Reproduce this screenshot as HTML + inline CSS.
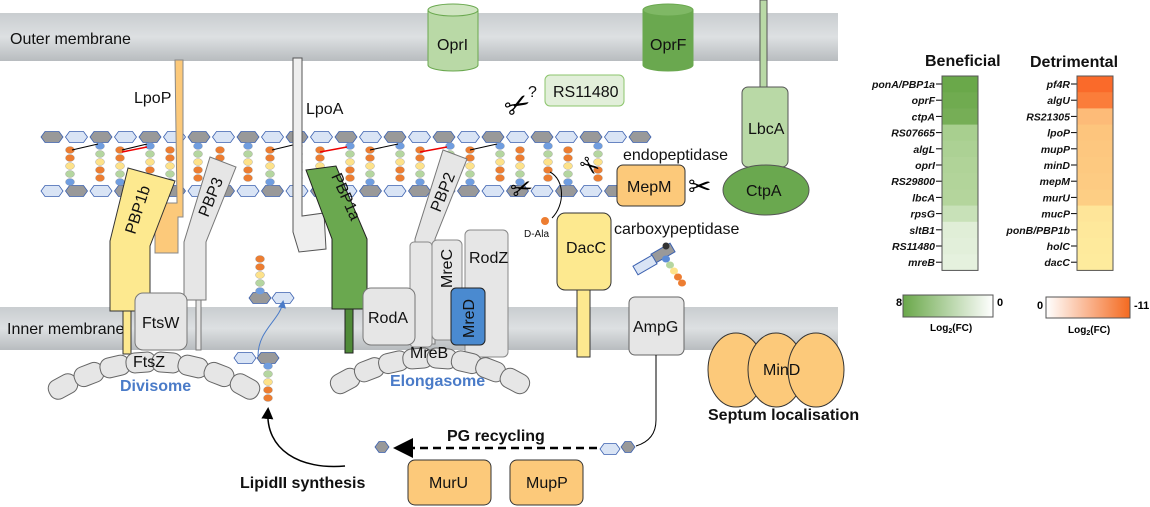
<!DOCTYPE html>
<html><head><meta charset="utf-8"><style>
body{margin:0;background:#fff}
svg{display:block;font-family:"Liberation Sans",sans-serif}
.t{font-size:16px;fill:#111}
.b{font-weight:bold}
.hl{font-size:10.5px;font-weight:bold;font-style:italic;text-anchor:end;fill:#111}
</style></head><body>
<svg id="s" width="1150" height="507" viewBox="0 0 1150 507" xmlns="http://www.w3.org/2000/svg">
<defs>
<linearGradient id="mem" x1="0" y1="0" x2="0" y2="1"><stop offset="0" stop-color="#c9cdd0"/><stop offset="0.5" stop-color="#dde0e2"/><stop offset="1" stop-color="#b8bcbf"/></linearGradient>
<linearGradient id="gb" x1="0" x2="1"><stop offset="0" stop-color="#6aa84a"/><stop offset="1" stop-color="#fff"/></linearGradient>
<linearGradient id="ob" x1="0" x2="1"><stop offset="0" stop-color="#fff"/><stop offset="1" stop-color="#f46a20"/></linearGradient>
<marker id="ah" markerWidth="8" markerHeight="8" refX="6" refY="4" orient="auto"><path d="M0,0 L8,4 L0,8z" fill="#000"/></marker>
<marker id="ab" markerWidth="8" markerHeight="8" refX="6" refY="4" orient="auto"><path d="M0,0 L8,4 L0,8z" fill="#4a7bc8"/></marker>
</defs>
<rect x="0" y="13" width="838" height="48" fill="url(#mem)"/>
<rect x="0" y="307" width="838" height="43" fill="url(#mem)"/>
<text x="10" y="44" class="t" font-size="15" fill="#333">Outer membrane</text>
<text x="7" y="334" class="t" font-size="15" fill="#333">Inner membrane</text>
<g id="pg"></g>
<g stroke="#6aa84f" stroke-width="1">
<path d="M428,10 v55 a25,6 0 0 0 50,0 v-55z" fill="#b9d9a6"/><ellipse cx="453" cy="10" rx="25" ry="6" fill="#cfe5c0"/>
<path d="M643,10 v55 a25,6 0 0 0 50,0 v-55z" fill="#6aa84f"/><ellipse cx="668" cy="10" rx="25" ry="6" fill="#7fb865"/>
</g>
<text x="437" y="50" class="t">OprI</text><text x="650" y="50" class="t">OprF</text>
<rect x="760" y="0" width="7" height="92" fill="#b9d9a6" stroke="#555"/>
<rect x="742" y="87" width="46" height="80" rx="6" fill="#b9d9a6" stroke="#555"/>
<text x="748" y="134" class="t">LbcA</text>
<ellipse cx="766" cy="190" rx="43" ry="25" fill="#6aa84f" stroke="#555"/>
<text x="746" y="196" class="t">CtpA</text>
<rect x="545" y="75" width="79" height="31" rx="5" fill="#e2efda" stroke="#8cc56c"/>
<text x="553" y="97" class="t">RS11480</text>
<text x="528" y="97" class="t">?</text>
<text x="505" y="115" font-size="30" transform="rotate(-30 518 105)">✂</text>
<path d="M175,60 h8 v157 h-5 v36 h-23 v-50 l22,0z" fill="#fcc97a" stroke="#888"/>
<text x="134" y="103" class="t">LpoP</text>
<path d="M293,58 h9 v158 l22,-3 l2,36 l-27,3 l-6,-20z" fill="#eee" stroke="#555"/>
<text x="306" y="114" class="t">LpoA</text>
<path d="M128,168 l47,13 l-25,65 v65 h-2 v0 h-38 v-70z" fill="#fde98f" stroke="#333"/>
<rect x="123" y="311" width="8" height="43" fill="#fde98f" stroke="#333"/>
<text x="0" y="0" class="t" transform="translate(135,235) rotate(-72)">PBP1b</text>
<path d="M210,157 l26,10 l-30,75 v58 h-22 v-58z" fill="#e6e6e6" stroke="#777"/>
<rect x="196" y="300" width="5" height="50" fill="#e6e6e6" stroke="#777"/>
<text x="0" y="0" class="t" transform="translate(208,218) rotate(-68)">PBP3</text>
<path d="M306,170 l30,-4 l31,73 v70 h-35 v-70z" fill="#6aa84f" stroke="#222"/>
<rect x="345" y="309" width="8" height="44" fill="#4f8a38" stroke="#222"/>
<text x="0" y="0" class="t" transform="translate(331,176) rotate(66)">PBP1a</text>
<path d="M443,150 l24,9 l-32,80 v105 h-20 v-105z" fill="#e6e6e6" stroke="#777"/>
<text x="0" y="0" class="t" transform="translate(440,213) rotate(-68)">PBP2</text>
<rect x="410" y="242" width="22" height="105" rx="4" fill="#e6e6e6" stroke="#888"/>
<rect x="432" y="240" width="30" height="100" rx="5" fill="#e6e6e6" stroke="#888"/>
<text x="0" y="0" class="t" transform="translate(452,288) rotate(-90)">MreC</text>
<rect x="465" y="230" width="43" height="127" rx="5" fill="#e6e6e6" stroke="#888"/>
<text x="469" y="263" class="t">RodZ</text>
<rect x="451" y="288" width="34" height="57" rx="5" fill="#4a8ad0" stroke="#222"/>
<text x="0" y="0" class="t" transform="translate(474,338) rotate(-90)">MreD</text>
<rect x="363" y="288" width="52" height="57" rx="8" fill="#e6e6e6" stroke="#777"/>
<text x="368" y="323" class="t">RodA</text>
<rect x="135" y="293" width="52" height="57" rx="8" fill="#e6e6e6" stroke="#777"/>
<text x="142" y="328" class="t">FtsW</text>
<g id="fil" fill="#e6e6e6" stroke="#666"></g>
<text x="133" y="367" class="t" font-size="15">FtsZ</text>
<text x="410" y="358" class="t" font-size="15">MreB</text>
<text x="120" y="391" class="t b" font-size="15" style="fill:#4a7bc8">Divisome</text>
<text x="390" y="386" class="t b" font-size="15" style="fill:#4a7bc8">Elongasome</text>
<rect x="577" y="287" width="13" height="70" fill="#fde98f" stroke="#333"/>
<rect x="557" y="213" width="54" height="77" rx="8" fill="#fde98f" stroke="#333"/>
<text x="566" y="253" class="t">DacC</text>
<text x="614" y="234" class="t" font-size="13">carboxypeptidase</text>
<circle cx="545" cy="221" r="4" fill="#ed7d31"/>
<text x="524" y="237" font-size="10" fill="#111">D-Ala</text>
<path d="M550,172 C565,180 565,205 552,218" fill="none" stroke="#000"/>
<rect x="617" y="165" width="68" height="41" rx="6" fill="#fcc97a" stroke="#333"/>
<text x="627" y="192" class="t">MepM</text>
<text x="623" y="160" class="t" font-size="13">endopeptidase</text>
<text x="688" y="196" font-size="28">✂</text>
<text x="510" y="196" font-size="26" transform="rotate(-20 525 185)">✂</text>
<text x="575" y="180" font-size="24" transform="rotate(40 595 175)">✂</text>
<rect x="629" y="297" width="55" height="58" rx="6" fill="#e6e6e6" stroke="#666"/>
<text x="633" y="332" class="t">AmpG</text>
<path d="M656,355 V420 Q656,440 636,446" fill="none" stroke="#000"/>
<g fill="#fcc97a" stroke="#333"><ellipse cx="736" cy="370" rx="28" ry="37"/><ellipse cx="776" cy="370" rx="28" ry="37"/><ellipse cx="816" cy="370" rx="28" ry="37"/></g>
<text x="763" y="375" class="t">MinD</text>
<text x="708" y="420" class="t b" font-size="13">Septum localisation</text>
<line x1="597" y1="448" x2="398" y2="448" stroke="#000" stroke-width="2.5" stroke-dasharray="8,5" marker-end="url(#ah)"/>
<text x="447" y="441" class="t b" font-size="13">PG recycling</text>
<rect x="408" y="460" width="83" height="45" rx="7" fill="#fcc97a" stroke="#333"/>
<text x="429" y="488" class="t">MurU</text>
<rect x="510" y="460" width="73" height="45" rx="7" fill="#fcc97a" stroke="#333"/>
<text x="526" y="488" class="t">MupP</text>
<text x="240" y="488" class="t b" font-size="12">LipidII synthesis</text>
<path d="M345,466 C300,470 265,450 268,410" fill="none" stroke="#000" stroke-width="1.5" marker-end="url(#ah)"/>
<path d="M258,356 C258,330 280,320 283,302" fill="none" stroke="#4a7bc8" marker-end="url(#ab)"/>
<text x="925" y="66" class="t b" font-size="13">Beneficial</text>
<text x="1030" y="67" class="t b" font-size="13">Detrimental</text>
<g id="hm"></g>
<rect x="903" y="295" width="90" height="22" fill="url(#gb)" stroke="#555"/>
<text x="896" y="306" font-size="11" class="b">8</text><text x="997" y="306" font-size="11" class="b">0</text>
<text x="930" y="331" font-size="10" class="b">Log<tspan font-size="7" dy="2">2</tspan><tspan dy="-2">(FC)</tspan></text>
<rect x="1046" y="297" width="84" height="21" fill="url(#ob)" stroke="#555"/>
<text x="1037" y="309" font-size="11" class="b">0</text><text x="1134" y="309" font-size="11" class="b">-11</text>
<text x="1068" y="333" font-size="10" class="b">Log<tspan font-size="7" dy="2">2</tspan><tspan dy="-2">(FC)</tspan></text>
</svg>
<script>
const NS="http://www.w3.org/2000/svg";
function el(p,t,a){const e=document.createElementNS(NS,t);for(const k in a)e.setAttribute(k,a[k]);p.appendChild(e);return e;}
const pg=document.getElementById('pg');
function hex(cx,cy,g,w,rot){w=w||22;const h=11;const p=`${cx-w/2},${cy} ${cx-w/2+4},${cy-h/2} ${cx+w/2-4},${cy-h/2} ${cx+w/2},${cy} ${cx+w/2-4},${cy+h/2} ${cx-w/2+4},${cy+h/2}`;
 const e=el(pg,'polygon',{points:p,fill:g?'#999':'#d9e4f5',stroke:'#3d62b0','stroke-width':0.8});if(rot)e.setAttribute('transform',rot);}
for(let i=0;i<25;i++){hex(52+i*24.5,137,i%2==0);}
for(let i=0;i<24;i++){hex(52+i*24.5,191,i%2==1);}
const cols=['#5b8bd6','#b5d6a0','#fde28a','#ed7d31','#ed7d31'];
function stem(x,y0,dir,n){for(let k=0;k<n;k++)el(pg,'ellipse',{cx:x,cy:y0+dir*k*8,rx:4.5,ry:3.5,fill:['#6f9de0','#b5d6a0','#fde28a','#ed7d31','#ed7d31'][k],stroke:'#999','stroke-width':0.4});}
[100,150,198,248,298,350,400,450,500,548,598].forEach(x=>stem(x,146,1,5));
[70,120,170,220,270,320,370,420,470,520,568].forEach(x=>stem(x,182,-1,5));
[[72,150,98],[122,150,147],[272,150,297],[370,150,398],[470,150,497]].forEach(a=>el(pg,'line',{x1:a[0],y1:a[1],x2:a[2],y2:a[1]-6,stroke:'#000'}));
[[122,150,147],[320,150,347],[420,150,447]].forEach(a=>el(pg,'line',{x1:a[0],y1:a[1]+2,x2:a[2],y2:a[1]-3,stroke:'#e00','stroke-width':1.5}));
hex(260,298,true,22);hex(283,298,false,22);stem(260,291,-1,5);
hex(245,358,false,22);hex(268,358,true,22);stem(268,366,1,5);
hex(382,447,true,14);hex(610,449,false,20);hex(628,447,true,14);
el(pg,'rect',{x:652,y:248,width:22,height:10,fill:'#999',stroke:'#3d62b0',transform:'rotate(-30 663 253)'});
el(pg,'rect',{x:634,y:260,width:22,height:10,fill:'#d9e4f5',stroke:'#3d62b0',transform:'rotate(-30 645 265)'});
for(let k=0;k<5;k++)el(pg,'ellipse',{cx:666+k*4,cy:259+k*6,rx:4,ry:3.5,fill:cols[k]});
el(pg,'circle',{cx:666,cy:246,r:3.5,fill:'#333'});
const fil=document.getElementById('fil');
function arc(x0,x1,ytop,sag){const n=8;for(let i=0;i<n;i++){const t=(i+0.5)/n;const x=x0+(x1-x0)*t;const u=2*t-1;const y=ytop+sag*u*u;const ang=Math.atan(2*sag*u*2/(x1-x0))*180/Math.PI;
 el(fil,'rect',{x:x-15,y:y-10,width:30,height:20,rx:9,transform:`rotate(${ang} ${x} ${y})`});}}
arc(50,258,362,32);arc(333,527,358,30);
const hm=document.getElementById('hm');
const gL=['ponA/PBP1a','oprF','ctpA','RS07665','algL','oprI','RS29800','lbcA','rpsG','sltB1','RS11480','mreB'];
const gC=['#6aa84a','#70ab50','#76ae56','#a8cf8f','#acd194','#b0d398','#b2d49a','#b4d59c','#c8e1b8','#e0eed7','#e2efda','#e5f1de'];
const dL=['pf4R','algU','RS21305','lpoP','mupP','minD','mepM','murU','mucP','ponB/PBP1b','holC','dacC'];
const dC=['#fa6a2a','#fb7d3a','#fdbb78','#fdc57d','#fdc77f','#fdc980','#fdcb82','#fdce84','#fee599','#fee89b','#feea9c','#feeb9d'];
const h=16.2;
for(let i=0;i<12;i++){el(hm,'rect',{x:942,y:76+i*h,width:36,height:h+0.5,fill:gC[i]});
 el(hm,'rect',{x:1077,y:76+i*h,width:36,height:h+0.5,fill:dC[i]});
 let t=el(hm,'text',{x:935,y:76+i*h+12,class:'hl'});t.textContent=gL[i];
 t=el(hm,'text',{x:1070,y:76+i*h+12,class:'hl'});t.textContent=dL[i];
 el(hm,'line',{x1:936,x2:942,y1:76+i*h+8,y2:76+i*h+8,stroke:'#000'});
 el(hm,'line',{x1:1071,x2:1077,y1:76+i*h+8,y2:76+i*h+8,stroke:'#000'});}
el(hm,'rect',{x:942,y:76,width:36,height:12*h,fill:'none',stroke:'#555'});
el(hm,'rect',{x:1077,y:76,width:36,height:12*h,fill:'none',stroke:'#555'});
</script>
</body></html>
